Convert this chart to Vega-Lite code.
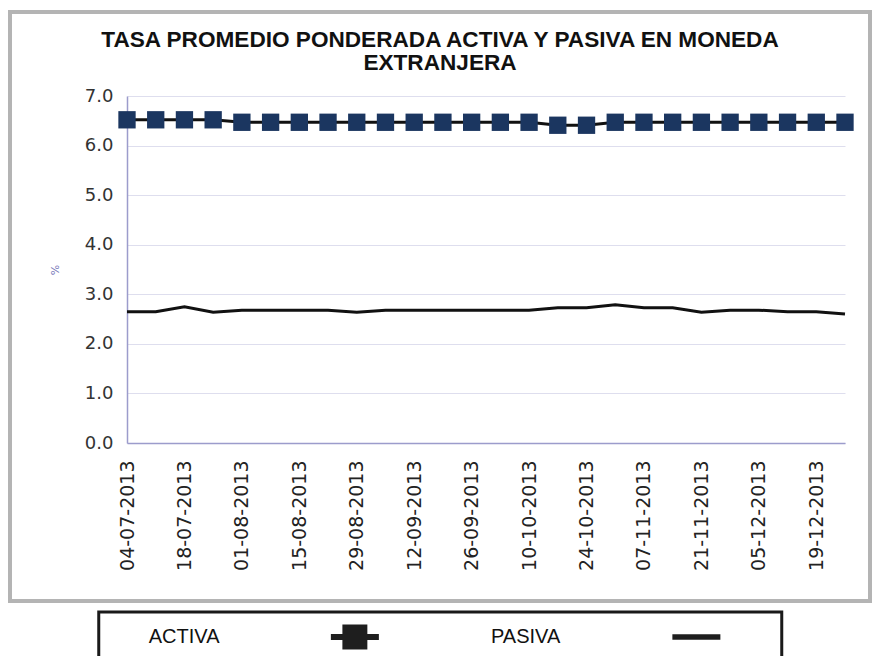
{
  "$schema": "https://vega.github.io/schema/vega-lite/v6.json",
  "autosize": {"type": "none"},
  "padding": {"left": 10, "top": 12, "right": 870, "bottom": 644},
  "background": "white",
  "spacing": 7,
  "center": true,
  "resolve": {"scale": {"x": "independent", "y": "independent", "shape": "independent"}},
  "vconcat": [
    {
      "width": 860,
      "height": 589,
      "view": {"stroke": "#b4b4b4", "strokeWidth": 4, "fill": "white"},
      "title": {
        "text": ["TASA PROMEDIO PONDERADA ACTIVA Y PASIVA EN MONEDA", "EXTRANJERA"],
        "font": "Liberation Sans",
        "fontSize": 22.6,
        "fontWeight": "bold",
        "color": "#111111",
        "anchor": "middle",
        "frame": "group",
        "lineHeight": 23,
        "offset": -63
      },
      "data": {
        "values": [
          {"fecha": "04-07-2013", "serie": "ACTIVA", "tasa": 6.52},
          {"fecha": "11-07-2013", "serie": "ACTIVA", "tasa": 6.52},
          {"fecha": "18-07-2013", "serie": "ACTIVA", "tasa": 6.52},
          {"fecha": "25-07-2013", "serie": "ACTIVA", "tasa": 6.52},
          {"fecha": "01-08-2013", "serie": "ACTIVA", "tasa": 6.47},
          {"fecha": "08-08-2013", "serie": "ACTIVA", "tasa": 6.47},
          {"fecha": "15-08-2013", "serie": "ACTIVA", "tasa": 6.47},
          {"fecha": "22-08-2013", "serie": "ACTIVA", "tasa": 6.47},
          {"fecha": "29-08-2013", "serie": "ACTIVA", "tasa": 6.47},
          {"fecha": "05-09-2013", "serie": "ACTIVA", "tasa": 6.47},
          {"fecha": "12-09-2013", "serie": "ACTIVA", "tasa": 6.47},
          {"fecha": "19-09-2013", "serie": "ACTIVA", "tasa": 6.47},
          {"fecha": "26-09-2013", "serie": "ACTIVA", "tasa": 6.47},
          {"fecha": "03-10-2013", "serie": "ACTIVA", "tasa": 6.47},
          {"fecha": "10-10-2013", "serie": "ACTIVA", "tasa": 6.47},
          {"fecha": "17-10-2013", "serie": "ACTIVA", "tasa": 6.41},
          {"fecha": "24-10-2013", "serie": "ACTIVA", "tasa": 6.41},
          {"fecha": "31-10-2013", "serie": "ACTIVA", "tasa": 6.47},
          {"fecha": "07-11-2013", "serie": "ACTIVA", "tasa": 6.47},
          {"fecha": "14-11-2013", "serie": "ACTIVA", "tasa": 6.47},
          {"fecha": "21-11-2013", "serie": "ACTIVA", "tasa": 6.47},
          {"fecha": "28-11-2013", "serie": "ACTIVA", "tasa": 6.47},
          {"fecha": "05-12-2013", "serie": "ACTIVA", "tasa": 6.47},
          {"fecha": "12-12-2013", "serie": "ACTIVA", "tasa": 6.47},
          {"fecha": "19-12-2013", "serie": "ACTIVA", "tasa": 6.47},
          {"fecha": "26-12-2013", "serie": "ACTIVA", "tasa": 6.47},
          {"fecha": "04-07-2013", "serie": "PASIVA", "tasa": 2.65},
          {"fecha": "11-07-2013", "serie": "PASIVA", "tasa": 2.65},
          {"fecha": "18-07-2013", "serie": "PASIVA", "tasa": 2.75},
          {"fecha": "25-07-2013", "serie": "PASIVA", "tasa": 2.64},
          {"fecha": "01-08-2013", "serie": "PASIVA", "tasa": 2.68},
          {"fecha": "08-08-2013", "serie": "PASIVA", "tasa": 2.68},
          {"fecha": "15-08-2013", "serie": "PASIVA", "tasa": 2.68},
          {"fecha": "22-08-2013", "serie": "PASIVA", "tasa": 2.68},
          {"fecha": "29-08-2013", "serie": "PASIVA", "tasa": 2.64},
          {"fecha": "05-09-2013", "serie": "PASIVA", "tasa": 2.68},
          {"fecha": "12-09-2013", "serie": "PASIVA", "tasa": 2.68},
          {"fecha": "19-09-2013", "serie": "PASIVA", "tasa": 2.68},
          {"fecha": "26-09-2013", "serie": "PASIVA", "tasa": 2.68},
          {"fecha": "03-10-2013", "serie": "PASIVA", "tasa": 2.68},
          {"fecha": "10-10-2013", "serie": "PASIVA", "tasa": 2.68},
          {"fecha": "17-10-2013", "serie": "PASIVA", "tasa": 2.73},
          {"fecha": "24-10-2013", "serie": "PASIVA", "tasa": 2.73},
          {"fecha": "31-10-2013", "serie": "PASIVA", "tasa": 2.79},
          {"fecha": "07-11-2013", "serie": "PASIVA", "tasa": 2.73},
          {"fecha": "14-11-2013", "serie": "PASIVA", "tasa": 2.73},
          {"fecha": "21-11-2013", "serie": "PASIVA", "tasa": 2.64},
          {"fecha": "28-11-2013", "serie": "PASIVA", "tasa": 2.68},
          {"fecha": "05-12-2013", "serie": "PASIVA", "tasa": 2.68},
          {"fecha": "12-12-2013", "serie": "PASIVA", "tasa": 2.65},
          {"fecha": "19-12-2013", "serie": "PASIVA", "tasa": 2.65},
          {"fecha": "26-12-2013", "serie": "PASIVA", "tasa": 2.6}
        ]
      },
      "encoding": {
        "x": {
          "field": "fecha",
          "type": "ordinal",
          "sort": null,
          "scale": {"type": "point", "range": [117, 835], "padding": 0},
          "axis": {
            "orient": "bottom",
            "offset": -158,
            "title": null,
            "values": ["04-07-2013", "18-07-2013", "01-08-2013", "15-08-2013", "29-08-2013", "12-09-2013", "26-09-2013", "10-10-2013", "24-10-2013", "07-11-2013", "21-11-2013", "05-12-2013", "19-12-2013"],
            "ticks": false,
            "grid": false,
            "domainColor": "#9c9ccc",
            "domainWidth": 1.5,
            "labelAngle": 270,
            "labelFont": "DejaVu Sans",
            "labelFontSize": 19,
            "labelColor": "#222222",
            "labelPadding": 17,
            "labelOverlap": false,
            "labelBound": false,
            "labelFlush": false
          }
        },
        "y": {
          "field": "tasa",
          "type": "quantitative",
          "scale": {"domain": [0, 7], "range": [431, 84], "nice": false},
          "axis": {
            "orient": "left",
            "offset": -117,
            "title": "%",
            "titleFont": "DejaVu Sans",
            "titleFontSize": 11,
            "titleFontWeight": "normal",
            "titleColor": "#7878b8",
            "titlePadding": 24,
            "values": [0, 1, 2, 3, 4, 5, 6, 7],
            "format": ".1f",
            "ticks": false,
            "domainColor": "#9c9ccc",
            "domainWidth": 1.5,
            "gridColor": "#dedeee",
            "gridWidth": 1,
            "labelFont": "DejaVu Sans",
            "labelFontSize": 18,
            "labelColor": "#333333",
            "labelPadding": 14
          }
        }
      },
      "layer": [
        {
          "mark": {"type": "line", "color": "#111111", "strokeWidth": 3},
          "encoding": {"detail": {"field": "serie", "type": "nominal"}}
        },
        {
          "transform": [{"filter": "datum.serie == 'ACTIVA'"}],
          "mark": {"type": "point", "shape": "square", "filled": true, "size": 300, "color": "#1b3660", "opacity": 1}
        }
      ]
    },
    {
      "width": 683,
      "height": 50,
      "view": {"stroke": "#1a1a1a", "strokeWidth": 3, "fill": "white"},
      "data": {
        "values": [
          {"item": "ACTIVA-texto", "serie": "ACTIVA", "parte": "texto"},
          {"item": "ACTIVA-simbolo", "serie": "ACTIVA", "parte": "simbolo"},
          {"item": "PASIVA-texto", "serie": "PASIVA", "parte": "texto"},
          {"item": "PASIVA-simbolo", "serie": "PASIVA", "parte": "simbolo"}
        ]
      },
      "encoding": {
        "x": {
          "field": "item",
          "type": "ordinal",
          "scale": {"type": "point", "padding": 0.5, "domain": ["ACTIVA-texto", "ACTIVA-simbolo", "PASIVA-texto", "PASIVA-simbolo"]},
          "axis": null
        }
      },
      "layer": [
        {
          "transform": [{"filter": "datum.parte == 'texto'"}],
          "mark": {"type": "text", "font": "Liberation Sans", "fontSize": 20, "color": "#111111"},
          "encoding": {"text": {"field": "serie", "type": "nominal"}}
        },
        {
          "transform": [{"filter": "datum.parte == 'simbolo'"}],
          "mark": {"type": "point", "filled": true, "size": 2304, "color": "#1e1e1e", "opacity": 1},
          "encoding": {
            "shape": {
              "field": "serie",
              "type": "nominal",
              "scale": {
                "domain": ["ACTIVA", "PASIVA"],
                "range": ["M-1,-0.125H-0.52V-0.52H0.52V-0.125H1V0.125H0.52V0.52H-0.52V0.125H-1Z", "M-1,-0.115H1V0.115H-1Z"]
              },
              "legend": null
            }
          }
        }
      ]
    }
  ],
  "config": {
    "view": {"stroke": null},
    "font": "Liberation Sans"
  }
}
